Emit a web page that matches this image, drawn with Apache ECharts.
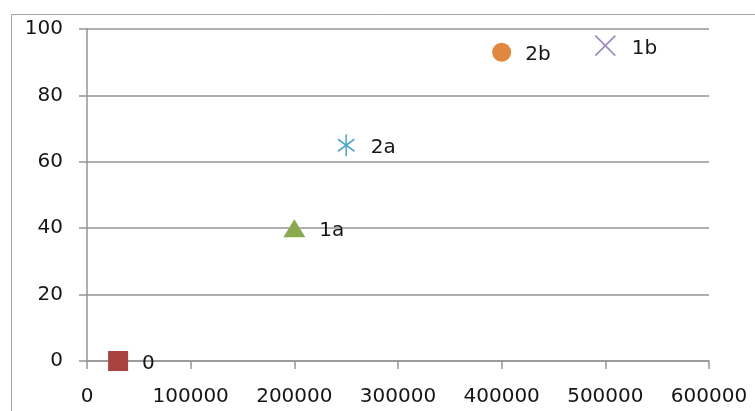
<!DOCTYPE html>
<html>
<head>
<meta charset="utf-8">
<script src="https://cdn.jsdelivr.net/npm/echarts@6/dist/echarts.min.js"></script>
<style>
  html, body { margin: 0; padding: 0; background: #fff; }
  #chart { width: 755px; height: 411px; }
</style>
</head>
<body>
<div id="chart"></div>
<script>
// Point data: one labelled marker per point
const pointNames = ['0', '1a', '2a', '2b', '1b'];
const xValues = [30000, 200000, 250000, 400000, 500000];
const yValues = [0, 40, 65, 93, 95];

// Axis ticks
const xTicks = [0, 100000, 200000, 300000, 400000, 500000, 600000];
const yTicks = [0, 20, 40, 60, 80, 100];

// Marker appearance per point
const markerStyles = [
  { symbol: 'rect', size: 20, fill: '#AA423F', stroke: null },
  { symbol: 'triangle', size: [22, 18], fill: '#8BA94E', stroke: null },
  { symbol: 'path://M10,0 L10,22 M1,5 L19,17 M1,17 L19,5', size: [20, 22], fill: null, stroke: '#4FA6C3' },
  { symbol: 'circle', size: 19, fill: '#E0883F', stroke: null },
  { symbol: 'path://M0,0 L20,20 M0,20 L20,0', size: 20, fill: null, stroke: '#9A88BC' }
];

const textColor = '#161616';
const lineGray = '#959595';
const fontSize = 20;

const series = pointNames.map((name, i) => {
  const m = markerStyles[i];
  return {
    name: name,
    type: 'scatter',
    symbol: m.symbol,
    symbolSize: m.size,
    symbolKeepAspect: true,
    data: [[xValues[i], yValues[i]]],
    itemStyle: m.fill
      ? { color: m.fill, opacity: 1 }
      : { color: 'none', borderColor: m.stroke, borderWidth: 1.6, opacity: 1 },
    label: {
      show: true,
      position: 'right',
      distance: 14,
      offset: [0, 3],
      formatter: name,
      color: textColor,
      fontFamily: 'DejaVu Sans',
      fontSize: fontSize
    },
    emphasis: { disabled: true },
    z: 3
  };
});

const chart = echarts.init(document.getElementById('chart'), null, { renderer: 'canvas' });
chart.setOption({
  animation: false,
  backgroundColor: '#ffffff',
  grid: { left: 87, top: 29, right: 46, bottom: 50, containLabel: false },
  graphic: [{
    type: 'rect',
    shape: { x: 11.5, y: 14.5, width: 900, height: 600 },
    style: { fill: 'none', stroke: '#a6a6a6', lineWidth: 1 },
    silent: true,
    z: 0
  }],
  xAxis: {
    type: 'value',
    min: xTicks[0],
    max: xTicks[xTicks.length - 1],
    interval: xTicks[1] - xTicks[0],
    axisLine: { show: true, lineStyle: { color: lineGray, width: 1.5 } },
    axisTick: { show: true, length: 8, inside: false, lineStyle: { color: lineGray, width: 1.5 } },
    splitLine: { show: false },
    axisLabel: {
      margin: 26,
      color: textColor,
      fontFamily: 'DejaVu Sans',
      fontSize: fontSize,
      showMinLabel: true,
      showMaxLabel: true,
      formatter: (v) => String(v)
    }
  },
  yAxis: {
    type: 'value',
    min: yTicks[0],
    max: yTicks[yTicks.length - 1],
    interval: yTicks[1] - yTicks[0],
    axisLine: { show: true, lineStyle: { color: lineGray, width: 1.5 } },
    axisTick: { show: true, length: 8, inside: false, lineStyle: { color: lineGray, width: 1.5 } },
    splitLine: { show: true, lineStyle: { color: lineGray, width: 1.5 } },
    axisLabel: {
      margin: 24,
      color: textColor,
      fontFamily: 'DejaVu Sans',
      fontSize: fontSize,
      padding: [2, 0, 0, 0],
      formatter: (v) => String(v)
    }
  },
  series: series
});
</script>
</body>
</html>
